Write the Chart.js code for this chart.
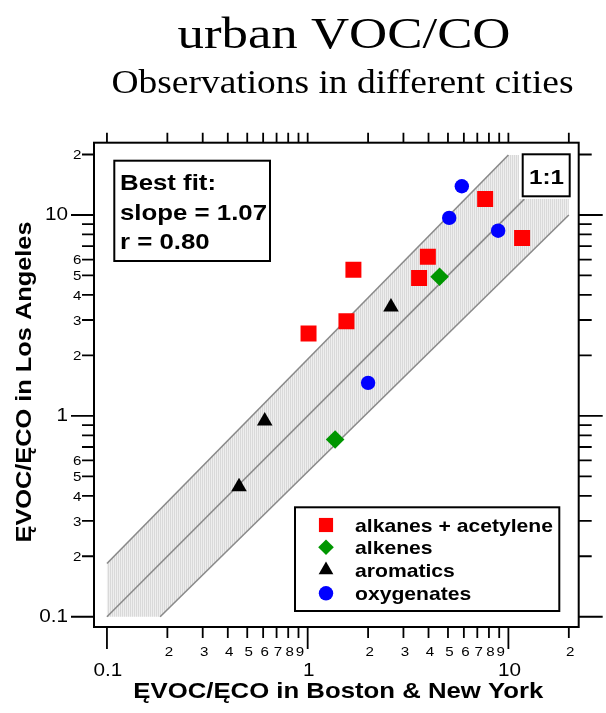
<!DOCTYPE html>
<html>
<head>
<meta charset="utf-8">
<script src="https://cdn.jsdelivr.net/npm/chart.js@4.4.0/dist/chart.umd.min.js"></script>
<style>
  html, body { margin: 0; padding: 0; background: #fff; }
  canvas { display: block; }
</style>
</head>
<body>
<canvas id="vocChart" width="606" height="713"></canvas>
<script>
// values (log-log, ratio units)
const categories = ["alkanes + acetylene", "alkenes", "aromatics", "oxygenates"];
const alkanesX = [1.01, 1.56, 1.69, 3.59, 3.97, 7.66, 11.7];
const alkanesY = [2.57, 2.96, 5.34, 4.86, 6.2, 12.0, 7.68];
const alkenesX = [1.37, 4.54];
const alkenesY = [0.762, 4.93];
const aromaticsX = [0.455, 0.611, 2.6];
const aromaticsY = [0.444, 0.944, 3.48];
const oxygenatesX = [2.0, 5.07, 5.86, 8.89];
const oxygenatesY = [1.46, 9.67, 13.9, 8.35];

// 1:1 line and the shaded band around it
const oneToOneX = [0.1, 12];
const oneToOneY = [0.1, 12];
const upperX = [0.1, 10];
const upperY = [0.184, 19.9];
const lowerX = [0.184, 20];
const lowerY = [0.1, 10];
const bandX = [0.1, 0.1, 10, 20, 20, 0.184];
const bandY = [0.1, 0.184, 19.9, 19.9, 10, 0.1];

// ticks
const majorTicks = [0.1, 1, 10];
const majorLabels = ["0.1", "1", "10"];
const minorTicks = [0.2, 0.3, 0.4, 0.5, 0.6, 0.7, 0.8, 0.9, 2, 3, 4, 5, 6, 7, 8, 9, 20];
const xMinorLabels = ["2", "3", "4", "5", "6", "7", "8", "9", "2", "3", "4", "5", "6", "7", "8", "9", "2"];
const yMinorLabels = ["2", "3", "4", "5", "6", "", "", "", "2", "3", "4", "5", "6", "", "", "", "2"];

const titleText = "urban VOC/CO";
const subtitleText = "Observations in different cities";
const xTitle = "ĘVOC/ĘCO in Boston & New York";
const yTitle = "ĘVOC/ĘCO in Los Angeles";
const fitLines = ["Best fit:", "slope = 1.07", "r = 0.80"];

const pts = (xs, ys) => xs.map((x, i) => ({ x: x, y: ys[i] }));

const ctx = document.getElementById("vocChart").getContext("2d");

// fine vertical hatch for the band
const pc = document.createElement("canvas");
pc.width = 2; pc.height = 1;
const pctx = pc.getContext("2d");
pctx.fillStyle = "#d9d9d9"; pctx.fillRect(0, 0, 1, 1);
pctx.fillStyle = "#eeeeee"; pctx.fillRect(1, 0, 1, 1);
const bandFill = ctx.createPattern(pc, "repeat");

const SANS = "'Liberation Sans', Arial, sans-serif";
const SERIF = "'Liberation Serif', 'Times New Roman', serif";

const markers = [
  { pointStyle: "rect", color: "#ff0000", radius: 11.3, legendRadius: 10 },
  { pointStyle: "rectRot", color: "#009600", radius: 9.3, legendRadius: 7.8 },
  { pointStyle: "triangle", color: "#000000", radius: 9, legendRadius: 8.5 },
  { pointStyle: "circle", color: "#0000ff", radius: 7.2, legendRadius: 7.2 },
];

function sText(c, str, x, y, font, align, sx, baseline) {
  c.save();
  c.font = font;
  c.translate(x, y);
  c.scale(sx, 1);
  c.textAlign = align;
  c.textBaseline = baseline || "alphabetic";
  c.fillText(str, 0, 0);
  c.restore();
}
function fitSx(c, str, font, width) {
  c.font = font;
  return width / c.measureText(str).width;
}

const decorPlugin = {
  id: "decor",
  afterDraw(chart) {
    const c = chart.ctx;
    const a = chart.chartArea;
    const xs = chart.scales.x, ys = chart.scales.y;
    c.save();
    c.fillStyle = "#000";
    c.strokeStyle = "#000";

    // 1:1 box
    c.fillStyle = "#fff";
    c.fillRect(519, 151, 54, 48);
    c.lineWidth = 2;
    c.strokeRect(522.7, 154.3, 47, 42);
    c.fillStyle = "#000";
    let f = "bold 21px " + SANS;
    sText(c, "1:1", 546.5, 183.5, f, "center", fitSx(c, "1:1", f, 35));

    // best fit box
    c.fillStyle = "#fff";
    c.fillRect(114.3, 160.7, 155.7, 100.3);
    c.strokeRect(114.3, 160.7, 155.7, 100.3);
    c.fillStyle = "#000";
    f = "bold 22px " + SANS;
    let sx = fitSx(c, fitLines[1], f, 147);
    const fitBase = [190, 220, 249];
    fitLines.forEach((t, i) => sText(c, t, 120, fitBase[i], f, "left", sx));

    // legend box
    c.fillStyle = "#fff";
    c.fillRect(295, 507.3, 264.3, 103.7);
    c.strokeRect(295, 507.3, 264.3, 103.7);
    f = "bold 18.5px " + SANS;
    sx = fitSx(c, categories[0], f, 198);
    const rowY = [525, 547.3, 570, 593.3];
    categories.forEach((t, i) => {
      const m = markers[i];
      c.fillStyle = m.color;
      Chart.helpers.drawPoint(c, { pointStyle: m.pointStyle, radius: m.legendRadius, borderWidth: 0, rotation: 0 }, 326, rowY[i]);
      c.fillStyle = "#000";
      sText(c, t, 355, rowY[i] + 6.7, f, "left", sx);
    });

    // frame
    c.lineWidth = 2;
    c.strokeStyle = "#000";
    c.strokeRect(a.left, a.top, a.right - a.left, a.bottom - a.top);

    // ticks
    c.lineWidth = 1.8;
    c.beginPath();
    const allTicks = majorTicks.map(v => [v, true]).concat(minorTicks.map(v => [v, false]));
    allTicks.forEach(([v, major]) => {
      const px = xs.getPixelForValue(v);
      c.moveTo(px, a.bottom); c.lineTo(px, a.bottom + (major ? 22 : 11));
      c.moveTo(px, a.top); c.lineTo(px, a.top - 10);
      const py = ys.getPixelForValue(v);
      c.moveTo(a.left, py); c.lineTo(a.left - (major ? 23 : 12), py);
      c.moveTo(a.right, py); c.lineTo(a.right + (major ? 24 : 13), py);
    });
    c.stroke();

    // tick labels
    c.fillStyle = "#000";
    const fMaj = "18px " + SANS, fMin = "13.5px " + SANS;
    majorTicks.forEach((v, i) => {
      sText(c, majorLabels[i], xs.getPixelForValue(v) + 1, 675.5, fMaj, "center", 1.15);
      sText(c, majorLabels[i], a.left - 26, ys.getPixelForValue(v) + 5.5, fMaj, "right", 1.15);
    });
    minorTicks.forEach((v, i) => {
      if (xMinorLabels[i]) sText(c, xMinorLabels[i], xs.getPixelForValue(v) + 1.5, 655.5, fMin, "center", 1.12);
      if (yMinorLabels[i]) sText(c, yMinorLabels[i], a.left - 12.5, ys.getPixelForValue(v) + 4.8, fMin, "right", 1.12);
    });

    // axis titles
    f = "bold 22px " + SANS;
    sText(c, xTitle, 338.3, 698.3, f, "center", fitSx(c, xTitle, f, 410));
    c.save();
    c.translate(31, 382);
    c.rotate(-Math.PI / 2);
    sText(c, yTitle, 0, 0, f, "center", fitSx(c, yTitle, f, 321));
    c.restore();

    // titles
    f = "45px " + SERIF;
    sText(c, titleText, 344, 48, f, "center", fitSx(c, titleText, f, 333));
    f = "33px " + SERIF;
    sText(c, subtitleText, 342.5, 93, f, "center", fitSx(c, subtitleText, f, 462));

    c.restore();
  }
};

const scatterSet = (label, xs, ys, m, order) => ({
  type: "scatter",
  label: label,
  data: pts(xs, ys),
  pointStyle: m.pointStyle,
  pointRadius: m.radius,
  pointHoverRadius: m.radius,
  backgroundColor: m.color,
  borderWidth: 0,
  order: order,
});

const guideLine = (xs, ys, order) => ({
  type: "line",
  data: pts(xs, ys),
  borderColor: "#8a8a8a",
  borderWidth: 1.6,
  pointRadius: 0,
  fill: false,
  order: order,
});

const chart = new Chart(ctx, {
  type: "scatter",
  data: {
    datasets: [
      scatterSet(categories[0], alkanesX, alkanesY, markers[0], 1),
      scatterSet(categories[1], alkenesX, alkenesY, markers[1], 1),
      scatterSet(categories[2], aromaticsX, aromaticsY, markers[2], 1),
      scatterSet(categories[3], oxygenatesX, oxygenatesY, markers[3], 1),
      guideLine(oneToOneX, oneToOneY, 5),
      guideLine(upperX, upperY, 5),
      guideLine(lowerX, lowerY, 5),
      {
        type: "line",
        data: pts(bandX, bandY),
        backgroundColor: bandFill,
        borderWidth: 0,
        pointRadius: 0,
        fill: "shape",
        order: 10,
      },
    ],
  },
  options: {
    responsive: false,
    animation: false,
    layout: { padding: { left: 94, right: 27.3, top: 142.7, bottom: 86 } },
    plugins: { legend: { display: false }, tooltip: { enabled: false } },
    scales: {
      x: { type: "logarithmic", display: false, min: 0.0862, max: 22.4, bounds: "data" },
      y: { type: "logarithmic", display: false, min: 0.0889, max: 22.9, bounds: "data" },
    },
  },
  plugins: [decorPlugin],
});
</script>
</body>
</html>
